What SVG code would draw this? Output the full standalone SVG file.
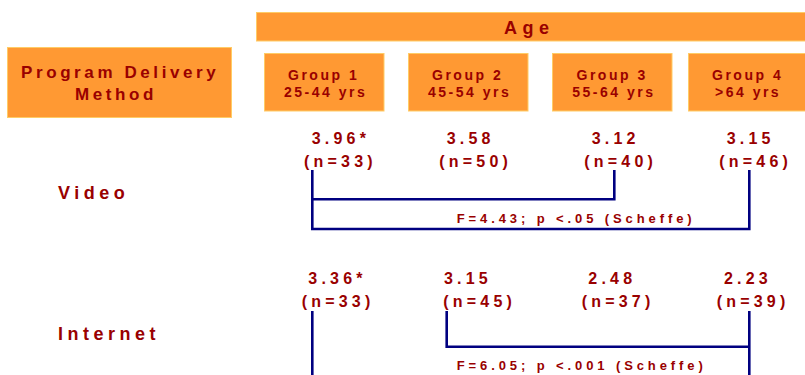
<svg xmlns="http://www.w3.org/2000/svg" width="805" height="375" viewBox="0 0 805 375">
<style>
.box{fill:#FF9933;stroke:#FFCC66;stroke-width:1}
text{font-family:"Liberation Sans",Arial,sans-serif;font-weight:bold;fill:#990000}
.hd{font-size:17px;letter-spacing:3.6px}
.age{font-size:18px;letter-spacing:5.5px}
.grp{font-size:14px;letter-spacing:2.5px}
.val{font-size:16px;letter-spacing:4.2px}
.row{font-size:18px;letter-spacing:4.5px}
.stat{font-size:13px;letter-spacing:3.9px}
.ln{fill:none;stroke:#000080;stroke-width:2.6;stroke-linejoin:miter;stroke-linecap:butt}
</style>
<rect width="805" height="375" fill="#FFFFFF"/>
<g id="age-header">
<rect class="box" x="256.5" y="12.5" width="560" height="28.5"/>
<text class="age" x="504" y="34">Age</text>
</g>
<g id="program-delivery-method">
<rect class="box" x="7.5" y="47.5" width="224" height="70"/>
<text class="hd" x="21" y="78">Program Delivery</text>
<text class="hd" x="75" y="100">Method</text>
</g>
<g id="group1">
<rect class="box" x="264.5" y="53.5" width="119.5" height="57.5"/>
<text class="grp" x="288" y="80">Group 1</text>
<text class="grp" x="284" y="96.7">25-44 yrs</text>
</g>
<g id="group2">
<rect class="box" x="408.5" y="53.5" width="119.5" height="57.5"/>
<text class="grp" x="432" y="80">Group 2</text>
<text class="grp" x="428" y="96.7">45-54 yrs</text>
</g>
<g id="group3">
<rect class="box" x="552.5" y="53.5" width="119.5" height="57.5"/>
<text class="grp" x="576.5" y="80">Group 3</text>
<text class="grp" x="572.3" y="96.7">55-64 yrs</text>
</g>
<g id="group4">
<rect class="box" x="688.5" y="53.5" width="119.5" height="57.5"/>
<text class="grp" x="712" y="80">Group 4</text>
<text class="grp" x="715" y="96.7">&gt;64 yrs</text>
</g>
<g id="video-row">
<text class="row" x="58" y="199">Video</text>
<text class="val" x="311.7" y="144">3.96*</text>
<text class="val" x="304" y="166.7">(n=33)</text>
<text class="val" x="446.7" y="144">3.58</text>
<text class="val" x="439.3" y="166.7">(n=50)</text>
<text class="val" x="591.7" y="144">3.12</text>
<text class="val" x="584.3" y="166.7">(n=40)</text>
<text class="val" x="726.7" y="144">3.15</text>
<text class="val" x="719.3" y="166.7">(n=46)</text>
<text class="stat" x="456.7" y="223">F=4.43; p &lt;.05 (Scheffe)</text>
</g>
<g id="internet-row">
<text class="row" x="58" y="340">Internet</text>
<text class="val" x="308.3" y="284">3.36*</text>
<text class="val" x="301.7" y="306.7">(n=33)</text>
<text class="val" x="444" y="284">3.15</text>
<text class="val" x="443.3" y="306.7">(n=45)</text>
<text class="val" x="588.3" y="284">2.48</text>
<text class="val" x="581.7" y="306.7">(n=37)</text>
<text class="val" x="724" y="284">2.23</text>
<text class="val" x="716.7" y="306.7">(n=39)</text>
<text class="stat" x="456.7" y="370">F=6.05; p &lt;.001 (Scheffe)</text>
</g>
<g id="connectors">
<polyline class="ln" points="312.3,170 312.3,229 749.3,229 749.3,170"/>
<polyline class="ln" points="312.3,199.3 614.3,199.3 614.3,170"/>
<polyline class="ln" points="312.3,311 312.3,376"/>
<polyline class="ln" points="446.7,311 446.7,346.7 749.3,346.7"/>
<polyline class="ln" points="749.3,311 749.3,376"/>
</g>
</svg>
